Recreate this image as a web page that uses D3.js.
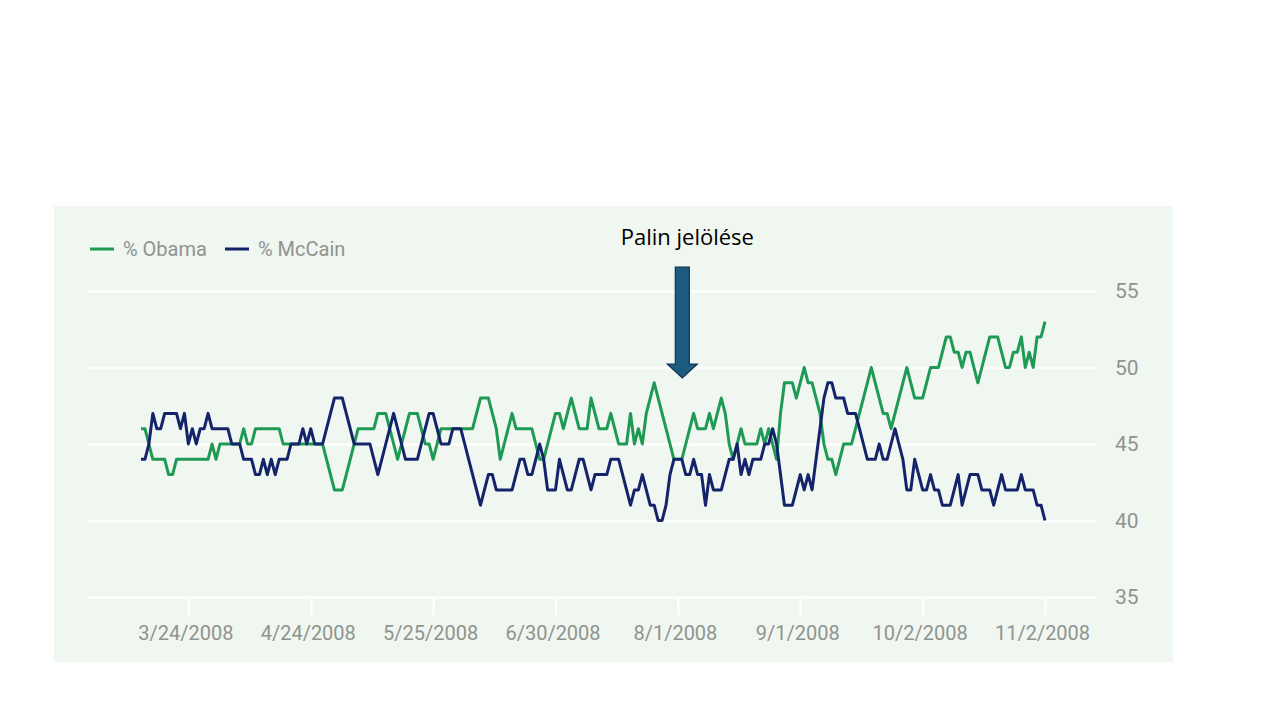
<!DOCTYPE html>
<html>
<head>
<meta charset="utf-8">
<script src="https://cdn.jsdelivr.net/npm/d3@7"></script>
<style>
  html, body { margin: 0; padding: 0; background: #ffffff; }
  svg { display: block; }
</style>
</head>
<body>
<div id="chart"></div>
<script>
// daily tracking values, 230 days
let obama = [
  46,46,45,44,44,44,44,43,43,44, 44,44,44,44,44,44,44,44,45,44,
  45,45,45,45,45,45,46,45,45,46, 46,46,46,46,46,46,45,45,45,45,
  45,45,45,45,45,45,45,44,43,42, 42,42,43,44,45,46,46,46,46,46,
  47,47,47,46,45,44,45,46,47,47, 47,46,45,45,44,45,46,46,46,46,
  46,46,46,46,46,47,48,48,48,47, 46,44,45,46,47,46,46,46,46,46,
  45,44,44,45,46,47,47,46,47,48, 47,46,46,46,48,47,46,46,46,47,
  46,45,45,45,47,45,46,45,47,48, 49,48,47,46,45,44,44,44,45,46,
  47,46,46,46,47,46,47,48,47,45, 44,45,46,45,45,45,45,46,45,46,
  45,44,47,49,49,49,48,49,50,49, 49,48,47,45,44,44,43,44,45,45,
  45,46,47,48,49,50,49,48,47,47, 46,47,48,49,50,49,48,48,48,49,
  50,50,50,51,52,52,51,51,50,51, 51,50,49,50,51,52,52,52,51,50,
  50,51,51,52,50,51,50,52,52,53
];
let mccain = [
  44,44,45,47,46,46,47,47,47,47, 46,47,45,46,45,46,46,47,46,46,
  46,46,46,45,45,45,44,44,44,43, 43,44,43,44,43,44,44,44,45,45,
  45,46,45,46,45,45,45,46,47,48, 48,48,47,46,45,45,45,45,45,44,
  43,44,45,46,47,46,45,44,44,44, 44,45,46,47,47,46,45,45,45,46,
  46,46,45,44,43,42,41,42,43,43, 42,42,42,42,42,43,44,44,43,43,
  44,45,44,42,42,42,44,43,42,42, 43,44,44,43,42,43,43,43,43,44,
  44,44,43,42,41,42,42,43,42,41, 41,40,40,41,43,44,44,44,43,43,
  44,43,43,41,43,42,42,42,43,44, 44,45,43,44,43,44,44,44,45,45,
  46,45,43,41,41,41,42,43,42,43, 42,44,46,48,49,49,48,48,48,47,
  47,47,46,45,44,44,44,45,44,44, 45,46,45,44,42,42,44,43,42,42,
  43,42,42,41,41,41,42,43,41,42, 43,43,43,42,42,42,41,42,43,42,
  42,42,42,43,42,42,42,41,41,40
];
let tickDays = [12, 43, 74, 105, 136, 167, 198, 229];
let tickLabels = ["3/24/2008", "4/24/2008", "5/25/2008", "6/30/2008", "8/1/2008", "9/1/2008", "10/2/2008", "11/2/2008"];
let yTicks = [35, 40, 45, 50, 55];
let seriesNames = ["% Obama", "% McCain"];
let seriesColors = ["#1f9a55", "#15246a"];

let w = 1280;
let h = 720;
let fontFam = "Roboto, 'Noto Sans', sans-serif";
let gray = "#8f948f";

let svg = d3.select("#chart").append("svg")
    .attr("width", w).attr("height", h);

// light green panel
svg.append("rect")
    .attr("x", 54).attr("y", 206).attr("width", 1119).attr("height", 456)
    .attr("fill", "#f0f6f0");

let x = d3.scaleLinear().domain([0, obama.length - 1]).range([141, 1045]);
let y = d3.scaleLinear().domain([35, 55]).range([597, 291]);

let gridLeft = 88, gridRight = 1097;

// y axis on the right, tick lines used as white gridlines
let yAxis = d3.axisRight(y)
    .tickValues(yTicks)
    .tickSize(-(gridRight - gridLeft))
    .tickPadding(18)
    .tickFormat(d3.format("d"));
let yg = svg.append("g")
    .attr("transform", "translate(" + gridRight + ",0)")
    .call(yAxis);
yg.select(".domain").remove();
yg.selectAll("line").attr("stroke", "#ffffff").attr("stroke-width", 2.5);
yg.selectAll("text")
    .attr("fill", gray)
    .style("font-family", fontFam)
    .style("font-size", "21px");

// x axis with small white ticks under the lowest gridline
let xAxis = d3.axisBottom(x)
    .tickValues(tickDays)
    .tickSize(18)
    .tickPadding(11)
    .tickFormat((d, i) => tickLabels[i]);
let xg = svg.append("g")
    .attr("transform", "translate(0," + y(35) + ")")
    .call(xAxis);
xg.select(".domain").remove();
xg.selectAll("line").attr("stroke", "#ffffff").attr("stroke-width", 2.5);
xg.selectAll("text")
    .attr("fill", gray)
    .attr("dx", -3)
    .style("font-family", fontFam)
    .style("font-size", "20px");

// lines
let line = d3.line()
    .x((d, i) => x(i))
    .y(d => y(d));

[obama, mccain].forEach((s, k) => {
  svg.append("path")
      .datum(s)
      .attr("d", line)
      .attr("fill", "none")
      .attr("stroke", seriesColors[k])
      .attr("stroke-width", 3)
      .attr("stroke-linejoin", "round");
});

// legend
let legend = svg.append("g").attr("transform", "translate(90,249)");
let lx = 0;
seriesNames.forEach((name, k) => {
  legend.append("line")
      .attr("x1", lx).attr("x2", lx + 24)
      .attr("y1", 0).attr("y2", 0)
      .attr("stroke", seriesColors[k]).attr("stroke-width", 3);
  legend.append("text")
      .attr("x", lx + 33).attr("y", 7)
      .attr("fill", gray)
      .style("font-family", fontFam)
      .style("font-size", "20px")
      .text(name);
  lx += 135;
});

// Palin annotation
let ax = x(137) + 0.5;
svg.append("text")
    .attr("x", ax + 5).attr("y", 245)
    .attr("text-anchor", "middle")
    .attr("fill", "#000000")
    .style("font-family", "'Open Sans', Lato, sans-serif")
    .style("font-size", "22px")
    .text("Palin jelölése");

svg.append("path")
    .attr("d", "M" + (ax - 7) + ",267 L" + (ax + 7) + ",267 L" + (ax + 7) + ",364 L" + (ax + 15) + ",364 L" +
         ax + ",378 L" + (ax - 15) + ",364 L" + (ax - 7) + ",364 Z")
    .attr("fill", "#1d5b80")
    .attr("stroke", "#0e3350")
    .attr("stroke-width", 1.2);
</script>
</body>
</html>
